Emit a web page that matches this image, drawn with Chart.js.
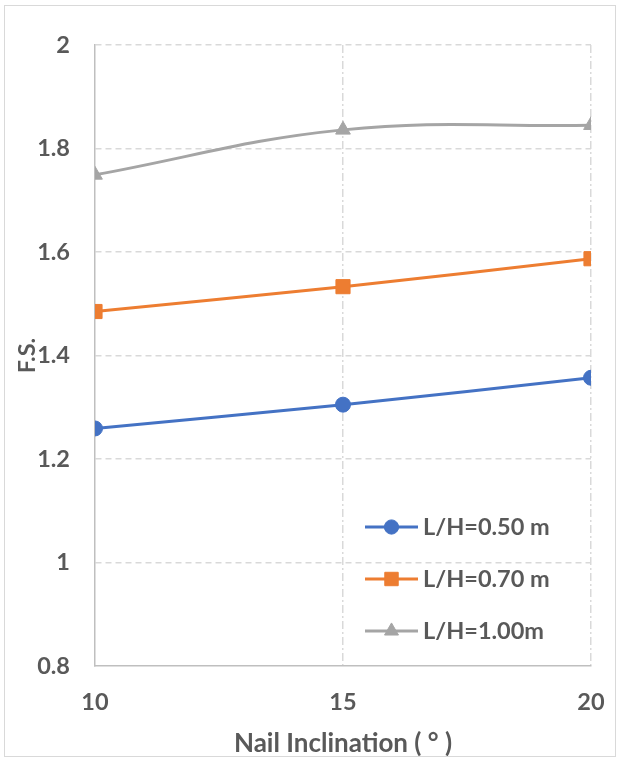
<!DOCTYPE html>
<html><head><meta charset="utf-8">
<script src="https://cdn.jsdelivr.net/npm/chart.js@4"></script>
<style>
html,body{margin:0;padding:0;background:#fff;}
#wrap{position:relative;width:618px;height:760px;}
#frame{position:absolute;left:4px;top:5px;width:612px;height:752px;border:1px solid #d9d9d9;box-sizing:border-box;pointer-events:none;}
canvas{position:absolute;left:0;top:0;}
</style></head><body>
<div id="wrap"><canvas id="c" width="618" height="760"></canvas><div id="frame"></div></div>
<script>
// ---- data ----
const inclinations = [10, 15, 20];
const fsL050 = [1.259, 1.305, 1.357];
const fsL070 = [1.485, 1.533, 1.587];
const fsL100 = [1.749, 1.836, 1.845];
const seriesLabels = ['L/H=0.50 m', 'L/H=0.70 m', 'L/H=1.00m'];
const xTicks = [10, 15, 20];
const yTicks = [0.8, 1, 1.2, 1.4, 1.6, 1.8, 2];
const xTitle = 'Nail Inclination ( \u00B0 )';
const yTitle = 'F.S.';

const FONT = 'Lato';
const TXT = '#595959';
const FS = 23.5;

function pts(vals){ return inclinations.map((x,i)=>({x:x, y:vals[i]})); }

const styles = [
  {color:'#4472C4', pointStyle:'circle', r:7.5},
  {color:'#ED7D31', pointStyle:'rect', r:10},
  {color:'#A5A5A5', pointStyle:'triangle', r:8.5}
];
const seriesVals = [fsL050, fsL070, fsL100];

const datasets = seriesVals.map((v,i)=>({
  label: seriesLabels[i],
  data: pts(v),
  borderColor: styles[i].color,
  backgroundColor: styles[i].color,
  pointStyle: styles[i].pointStyle,
  pointRadius: styles[i].r,
  pointHoverRadius: styles[i].r,
  pointBorderWidth: 1,
  borderWidth: 3,
  tension: 0.4,
  fill: false
}));

const legendPlugin = {
  id: 'insideLegend',
  afterDraw(chart){
    const ctx = chart.ctx, ca = chart.chartArea;
    chart.data.datasets.forEach((ds,i)=>{
      const y = ca.bottom - 139 + i*52;
      const x0 = ca.right - 226;
      ctx.save();
      ctx.strokeStyle = ds.borderColor; ctx.lineWidth = 3;
      ctx.beginPath(); ctx.moveTo(x0, y); ctx.lineTo(x0+53, y); ctx.stroke();
      ctx.fillStyle = ds.backgroundColor; ctx.strokeStyle = ds.borderColor; ctx.lineWidth = 1;
      Chart.helpers.drawPoint(ctx, {pointStyle: ds.pointStyle, radius: ds.pointRadius*0.95, borderWidth: 1, rotation: 0}, x0+26.5, y);
      ctx.fillStyle = TXT; ctx.font = 'bold ' + FS + 'px ' + FONT;
      ctx.textBaseline = 'middle'; ctx.textAlign = 'left';
      ctx.fillText(ds.label, x0+58, y);
      ctx.restore();
    });
  }
};

new Chart(document.getElementById('c'), {
  type: 'line',
  data: { datasets: datasets },
  plugins: [legendPlugin],
  options: {
    responsive: false,
    animation: false,
    devicePixelRatio: 1,
    layout: { padding: { left: 0, right: 27, top: 45, bottom: 0 } },
    plugins: { legend: { display: false }, tooltip: { enabled: false } },
    scales: {
      x: {
        type: 'linear',
        min: xTicks[0], max: xTicks[xTicks.length-1],
        afterBuildTicks: s => { s.ticks = xTicks.map(v=>({value:v})); },
        afterFit: s => { s.height = 94; s.paddingLeft = 0; s.paddingRight = 0; },
        ticks: { color: TXT, font: { family: FONT, size: FS, weight: 'bold' }, padding: 22 },
        grid: {
          drawTicks: false,
          color: c => (c.tick && c.tick.value === xTicks[0]) ? 'rgba(0,0,0,0)' : '#d9d9d9',
          lineWidth: 1.5
        },
        border: { color: '#bfbfbf', width: 1.5, dash: [8,3,2,3] },
        title: { display: true, text: xTitle, color: TXT, font: { family: FONT, size: 26, weight: 'bold' }, padding: { top: 0, bottom: 1 } }
      },
      y: {
        type: 'linear',
        min: yTicks[0], max: yTicks[yTicks.length-1],
        afterBuildTicks: s => { s.ticks = yTicks.map(v=>({value:v})); },
        afterFit: s => { s.width = 95; s.paddingTop = 0; s.paddingBottom = 0; },
        ticks: { color: TXT, font: { family: FONT, size: FS, weight: 'bold' }, padding: 25,
                 callback: v => String(Number(v.toFixed(1))) },
        grid: {
          drawTicks: false,
          color: c => (c.tick && c.tick.value === yTicks[0]) ? 'rgba(0,0,0,0)' : '#d9d9d9',
          lineWidth: 1.5
        },
        border: { color: '#bfbfbf', width: 1.5, dash: [6,4] },
        title: { display: true, text: yTitle, color: TXT, font: { family: FONT, size: FS, weight: 'bold' }, padding: { top: 13, bottom: 0 } }
      }
    }
  }
});
</script>
</body></html>
